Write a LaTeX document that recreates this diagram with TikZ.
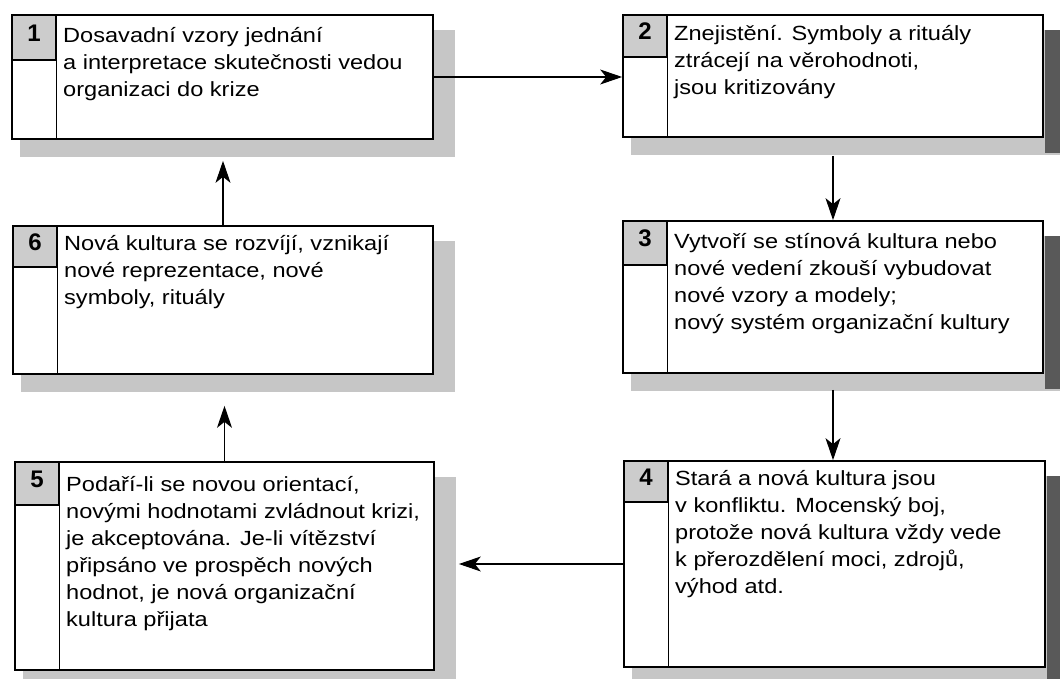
\documentclass[tikz,border=0pt]{standalone}
\usepackage{fontspec}
\setmainfont{Liberation Sans}
\newfontfamily\stagefont{Liberation Sans}[FakeStretch=1.15]
\usetikzlibrary{fit,arrows.meta}

\tikzset{
  frame/.style={draw=black, line width=1.7pt, fill=white, inner sep=0pt},
  numcell/.style={draw=black, line width=1.3pt, fill=gray!40, inner sep=0pt},
  numlabel/.style={inner sep=0pt, font=\fontsize{24}{24}\selectfont\bfseries},
  stagetext/.style={anchor=north west, inner sep=0pt, align=left,
    font=\stagefont\fontsize{20.5}{27}\selectfont},
  softshadow/.style={fill=gray!45},
  darkshadow/.style={fill=black!65},
  flow/.style={draw=black, line width=1.1pt,
    -{Stealth[length=22pt,width=15pt,inset=6pt]}},
}

% #1 name, #2 number, #3..#6 frame corners, #7 height of the number cell,
% #8 first baseline below the top edge, #9 text
\newcommand\stagebox[9]{%
  \node[frame, fit={(#3,#4) (#5,#6)}] (#1) {};
  \node[numcell, fit={(#3,#4) (#3+44,#4+#7)}] (#1n) {};
  \node[numlabel, yshift=4.5pt] at (#1n.center) {#2};
  \draw[line width=1.3pt] (#1n.south east) -- (#1n.south east |- #1.south);
  \node[stagetext] (#1t) at (#3+51,#4+#8-21) {\rule{0pt}{21pt}#9};
}

\begin{document}
\begin{tikzpicture}[x=1pt,y=-1pt]
\useasboundingbox (0,0) rectangle (1060,679);
\clip (0,0) rectangle (1060,679);
\fill[white] (0,0) rectangle (1060,679);

% shadows behind the frames
\fill[softshadow] (20,30) rectangle (455,157);
\fill[softshadow] (21,241) rectangle (455,392);
\fill[softshadow] (23,477) rectangle (456,690);
\fill[softshadow] (631,30) rectangle (1060,155);
\fill[darkshadow] (1045,30) rectangle (1060,153);
\fill[softshadow] (631,236) rectangle (1060,391);
\fill[darkshadow] (1045,236) rectangle (1060,389);
\fill[softshadow] (632,476) rectangle (1060,690);
\fill[darkshadow] (1047,476) rectangle (1060,690);

% the six stages
\stagebox{b1}{1}{12}{15}{433}{139}{45}{27}{Dosavadní vzory jednání\\a interpretace skutečnosti vedou\\organizaci do krize}
\stagebox{b2}{2}{623}{15}{1043}{137}{42}{25}{Znejistění. Symboly a rituály\\ztrácejí na věrohodnoti,\\jsou kritizovány}
\stagebox{b3}{3}{623}{221}{1043}{373}{44}{27}{Vytvoří se stínová kultura nebo\\nové vedení zkouší vybudovat\\nové vzory a modely;\\nový systém organizační kultury}
\stagebox{b4}{4}{624}{461}{1045}{667}{41}{24}{Stará a nová kultura jsou\\v konfliktu. Mocenský boj,\\protože nová kultura vždy vede\\k přerozdělení moci, zdrojů,\\výhod atd.}
\stagebox{b5}{5}{15}{462}{434}{670}{43}{29}{Podaří-li se novou orientací,\\novými hodnotami zvládnout krizi,\\je akceptována. Je-li vítězství\\připsáno ve prospěch nových\\hodnot, je nová organizační\\kultura přijata}
\stagebox{b6}{6}{13}{226}{433}{374}{41}{24}{Nová kultura se rozvíjí, vznikají\\nové reprezentace, nové\\symboly, rituály}

% the cycle
\draw[flow] (b1.east) -- (b1.east -| b2.west);
\draw[flow, shorten <=18pt] (b2.south) -- (b2.south |- b3.north);
\draw[flow, shorten <=16pt] (b3.south) -- (b3.south |- b4.north);
\draw[flow, shorten >=24pt] (b4.west) -- (b4.west -| b5.east);
\draw[flow, shorten >=31pt] (b5.north) -- (b5.north |- b6.south);
\draw[flow, shorten >=21pt] (b6.north) -- (b6.north |- b1.south);
\end{tikzpicture}
\end{document}
